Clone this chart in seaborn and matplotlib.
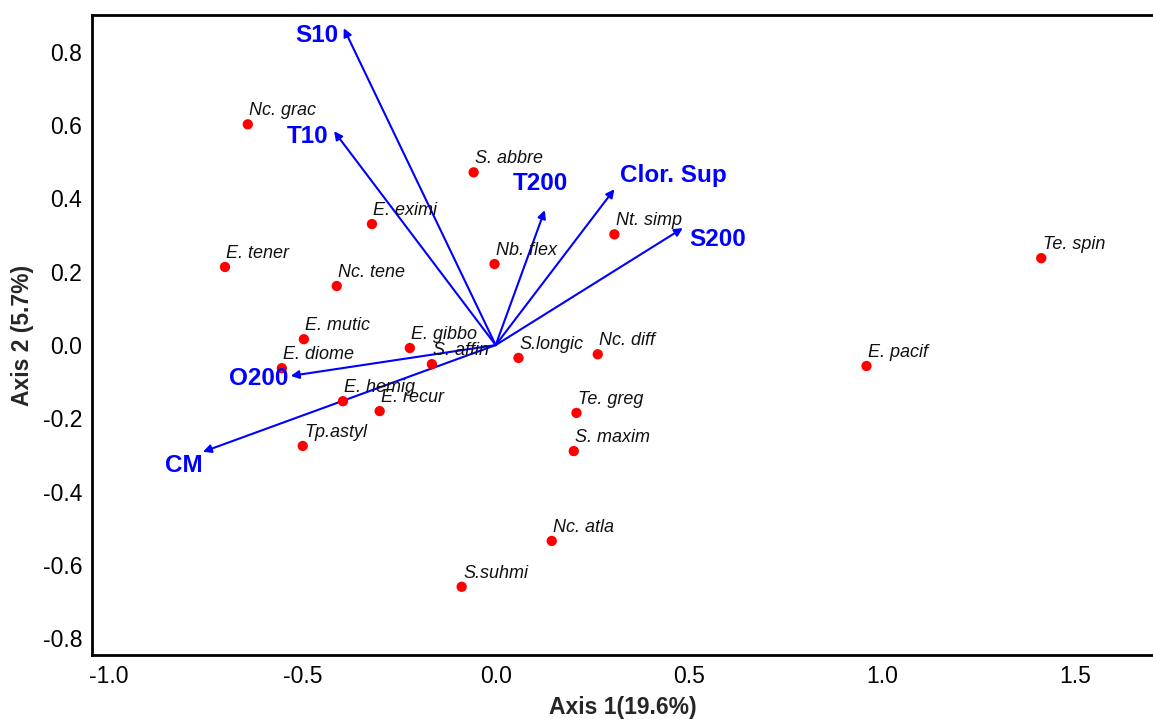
import matplotlib
matplotlib.use("Agg")
import matplotlib.pyplot as plt
import seaborn as sns
import pandas as pd

species = ["Nc. grac", "E. tener", "E. eximi", "Nc. tene", "E. mutic", "E. diome",
           "E. gibbo", "S. affin", "E. hemig", "E. recur", "Tp.astyl", "S. abbre",
           "Nb. flex", "Nt. simp", "S.longic", "Nc. diff", "Te. greg", "S. maxim",
           "Nc. atla", "S.suhmi", "E. pacif", "Te. spin"]
axis1 = [-0.641, -0.700, -0.320, -0.411, -0.496, -0.553,
         -0.222, -0.165, -0.395, -0.300, -0.499, -0.057,
         -0.003, 0.307, 0.059, 0.264, 0.209, 0.202,
         0.145, -0.088, 0.959, 1.411]
axis2 = [0.602, 0.213, 0.330, 0.161, 0.016, -0.063,
         -0.008, -0.052, -0.153, -0.180, -0.275, 0.471,
         0.221, 0.302, -0.035, -0.025, -0.185, -0.289,
         -0.534, -0.659, -0.057, 0.237]

variables = ["S10", "T10", "T200", "Clor. Sup", "S200", "O200", "CM"]
var_x = [-0.393, -0.418, 0.127, 0.307, 0.484, -0.530, -0.757]
var_y = [0.864, 0.583, 0.368, 0.425, 0.319, -0.084, -0.291]

xticks = [-1.0, -0.5, 0.0, 0.5, 1.0, 1.5]
yticks = [-0.8, -0.6, -0.4, -0.2, 0.0, 0.2, 0.4, 0.6, 0.8]

sns.set_style("white")
plt.rcParams["font.family"] = ["Liberation Sans", "DejaVu Sans"]

df = pd.DataFrame({"species": species, "x": axis1, "y": axis2})

fig = plt.figure(figsize=(11.53, 7.19), dpi=100)
ax = fig.add_axes([92 / 1153, 1 - 655 / 719, 1 - 92 / 1153, (655 - 15) / 719])

# arrows
for name, vx, vy in zip(variables, var_x, var_y):
    ax.annotate("", xy=(vx, vy), xytext=(0, 0),
                arrowprops=dict(arrowstyle="-|>", color="#0000ff", lw=1.5,
                                mutation_scale=12, shrinkA=0, shrinkB=0),
                zorder=2)

sns.scatterplot(data=df, x="x", y="y", ax=ax, color="#ff0000", s=55,
                edgecolor="none", zorder=3)

for name, x, y in zip(species, axis1, axis2):
    ax.annotate(name, xy=(x, y), xytext=(1, 3.5), textcoords="offset points",
                fontsize=13, style="italic", color="#111111",
                ha="left", va="bottom", zorder=4)

# variable labels (offset in points relative to arrow tips)
label_off = {
    "S10": (-4, -5, "right", "center"),
    "T10": (-4, -4, "right", "center"),
    "T200": (-3, 19, "center", "center"),
    "Clor. Sup": (4, 10, "left", "center"),
    "S200": (5, -8, "left", "center"),
    "O200": (-23, -2, "center", "center"),
    "CM": (-14, -10, "center", "center"),
}
for name, vx, vy in zip(variables, var_x, var_y):
    dx, dy, ha, va = label_off[name]
    ax.annotate(name, xy=(vx, vy), xytext=(dx, dy), textcoords="offset points",
                fontsize=17.5, fontweight="bold", color="#0000ff",
                ha=ha, va=va, zorder=4)

ax.set_xlim(-1.044, 1.70)
ax.set_ylim(-0.845, 0.90)
ax.set_xticks(xticks)
ax.set_yticks(yticks)
ax.set_xticklabels([f"{t:.1f}" for t in xticks])
ax.set_yticklabels([f"{t:.1f}" for t in yticks])
ax.tick_params(direction="in", length=5, width=1.5, labelsize=16.5,
               colors="black")
ax.tick_params(axis="x", pad=7)
ax.tick_params(axis="y", pad=7)
ax.set_xlabel("Axis 1(19.6%)", fontsize=16.5, fontweight="bold", labelpad=6)
ax.set_ylabel("Axis 2 (5.7%)", fontsize=16.5, fontweight="bold", labelpad=6)

for side in ["left", "bottom", "top"]:
    ax.spines[side].set_linewidth(2)
    ax.spines[side].set_color("black")
ax.spines["right"].set_visible(False)

fig.savefig("out.png", dpi=100)
